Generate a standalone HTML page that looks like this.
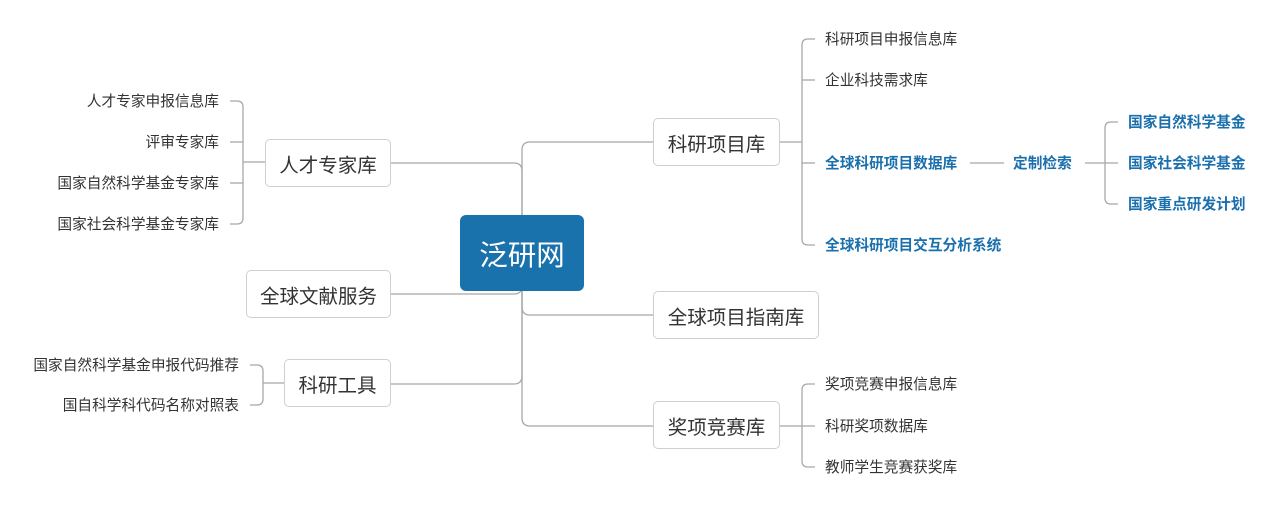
<!DOCTYPE html>
<html><head><meta charset="utf-8"><style>
html,body{margin:0;padding:0;background:#fff;}
body{width:1266px;height:511px;position:relative;overflow:hidden;font-family:"Liberation Sans","Noto Sans CJK SC",sans-serif;}
.box{position:absolute;box-sizing:border-box;border:1.5px solid #cfcfcf;border-radius:5px;background:#fff;color:#333;font-size:19.5px;display:flex;align-items:center;justify-content:center;}
.c{position:absolute;left:460px;top:215px;width:124px;height:76px;background:#1a72ad;border-radius:6px;color:#fff;font-size:28.5px;display:flex;align-items:center;justify-content:center;}
.t{position:absolute;font-size:14.7px;color:#333;line-height:18px;white-space:nowrap;}
.r{text-align:right;}
.b{color:#1a6fad;font-weight:bold;}
svg{position:absolute;left:0;top:0;}
</style></head><body>
<svg width="1266" height="511" fill="none" stroke="#a8a8a8" stroke-width="1.3">
<path d="M522 215 V150 Q522 142 530 142 H653"/>
<path d="M522 290 V307 Q522 315 530 315 H653"/>
<path d="M522 290 V418 Q522 426 530 426 H653"/>
<path d="M390 163 H514 Q522 163 522 171 V215"/>
<path d="M390 294 H514 Q522 294 522 286"/>
<path d="M390 384 H514 Q522 384 522 376 V290"/>
<path d="M779 142 H802"/>
<path d="M815 39 H808 Q802 39 802 45 V239 Q802 245 808 245 H815"/>
<path d="M802 80 H815"/>
<path d="M802 163 H815"/>
<path d="M970 163 H1004"/>
<path d="M1085 163 H1118"/>
<path d="M1118 122 H1111 Q1105 122 1105 128 V198 Q1105 204 1111 204 H1118"/>
<path d="M779 426 H815"/>
<path d="M815 384 H808 Q802 384 802 390 V461 Q802 467 808 467 H815"/>
<path d="M243 162 H265"/>
<path d="M230 101 H237 Q243 101 243 107 V218 Q243 224 237 224 H230"/>
<path d="M230 142 H243"/>
<path d="M230 183 H243"/>
<path d="M263 383 H285"/>
<path d="M250 365 H257 Q263 365 263 371 V399 Q263 405 257 405 H250"/>
</svg>
<div class="c">泛研网</div>
<div class="box" style="left:653px;top:118px;width:127px;height:48px">科研项目库</div>
<div class="box" style="left:653px;top:291px;width:166px;height:48px">全球项目指南库</div>
<div class="box" style="left:653px;top:401px;width:127px;height:48px">奖项竞赛库</div>
<div class="box" style="left:265px;top:139px;width:126px;height:48px">人才专家库</div>
<div class="box" style="left:246px;top:270px;width:145px;height:48px">全球文献服务</div>
<div class="box" style="left:284px;top:359px;width:107px;height:48px">科研工具</div>

<div class="t" style="left:825px;top:31px">科研项目申报信息库</div>
<div class="t" style="left:825px;top:72px">企业科技需求库</div>
<div class="t b" style="left:825px;top:155px">全球科研项目数据库</div>
<div class="t b" style="left:1013px;top:155px">定制检索</div>
<div class="t b" style="left:1128px;top:114px">国家自然科学基金</div>
<div class="t b" style="left:1128px;top:155px">国家社会科学基金</div>
<div class="t b" style="left:1128px;top:196px">国家重点研发计划</div>
<div class="t b" style="left:825px;top:237px">全球科研项目交互分析系统</div>
<div class="t" style="left:825px;top:376px">奖项竞赛申报信息库</div>
<div class="t" style="left:825px;top:418px">科研奖项数据库</div>
<div class="t" style="left:825px;top:459px">教师学生竞赛获奖库</div>

<div class="t r" style="right:1047px;top:93px">人才专家申报信息库</div>
<div class="t r" style="right:1047px;top:134px">评审专家库</div>
<div class="t r" style="right:1047px;top:175px">国家自然科学基金专家库</div>
<div class="t r" style="right:1047px;top:216px">国家社会科学基金专家库</div>
<div class="t r" style="right:1027px;top:357px">国家自然科学基金申报代码推荐</div>
<div class="t r" style="right:1027px;top:397px">国自科学科代码名称对照表</div>
</body></html>
